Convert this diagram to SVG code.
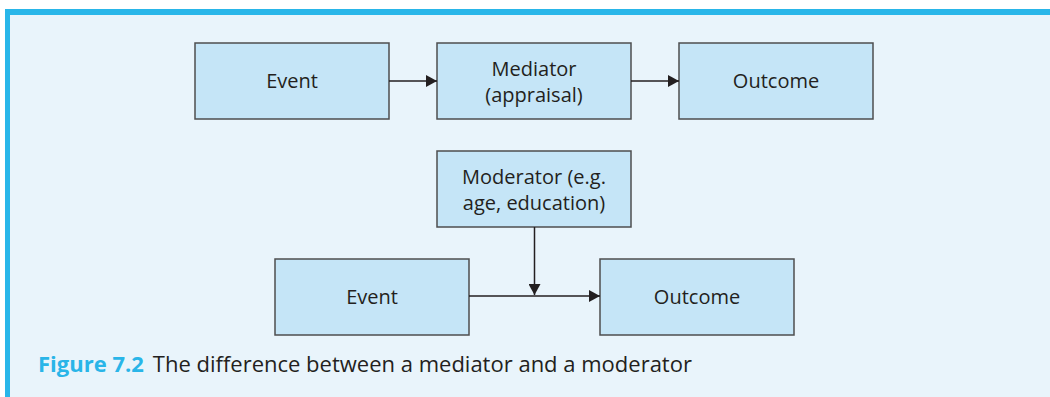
<svg xmlns="http://www.w3.org/2000/svg" width="1050" height="397" viewBox="0 0 1050 397">
  <defs>
    <style>
      .box { fill: #C5E5F7; stroke: #4D4D4F; stroke-width: 1.5; }
      .lbl { font-family: "Open Sans", "Noto Sans", sans-serif; font-size: 20px; fill: #231F20; text-anchor: middle; }
      .conn { stroke: #231F20; stroke-width: 1.5; fill: none; }
      .cap { font-family: "Open Sans", "Noto Sans", sans-serif; font-size: 22px; fill: #231F20; }
      .capnum { fill: #29B5E8; font-weight: bold; }
    </style>
    <marker id="arrow" viewBox="0 0 11 12" refX="11" refY="6" markerWidth="11" markerHeight="12" markerUnits="userSpaceOnUse" orient="auto">
      <path d="M0,0 L11,6 L0,12 Z" fill="#231F20"/>
    </marker>
  </defs>

  <!-- panel background and frame -->
  <rect x="0" y="0" width="1050" height="397" fill="#FFFFFF"/>
  <rect x="5" y="9" width="1045" height="388" fill="#E9F4FB"/>
  <rect x="5" y="9" width="1045" height="6" fill="#29B6E9"/>
  <rect x="5" y="9" width="5" height="388" fill="#29B6E9"/>

  <!-- mediator model -->
  <g id="event-top">
    <rect class="box" x="195" y="43" width="194" height="76"/>
    <text class="lbl" x="292" y="88">Event</text>
  </g>
  <g id="mediator">
    <rect class="box" x="437" y="43" width="194" height="76"/>
    <text class="lbl" x="534" y="76">Mediator</text>
    <text class="lbl" x="534" y="102">(appraisal)</text>
  </g>
  <g id="outcome-top">
    <rect class="box" x="679" y="43" width="194" height="76"/>
    <text class="lbl" x="776" y="88">Outcome</text>
  </g>

  <!-- moderator model -->
  <g id="moderator">
    <rect class="box" x="437" y="151" width="194" height="76"/>
    <text class="lbl" x="534" y="184">Moderator (e.g.</text>
    <text class="lbl" x="534" y="210">age, education)</text>
  </g>
  <g id="event-bottom">
    <rect class="box" x="275" y="259" width="194" height="76"/>
    <text class="lbl" x="372" y="304">Event</text>
  </g>
  <g id="outcome-bottom">
    <rect class="box" x="600" y="259" width="194" height="76"/>
    <text class="lbl" x="697" y="304">Outcome</text>
  </g>

  <g id="connectors">
    <line class="conn" x1="389" y1="81" x2="437" y2="81" marker-end="url(#arrow)"/>
    <line class="conn" x1="631" y1="81" x2="679" y2="81" marker-end="url(#arrow)"/>
    <line class="conn" x1="469" y1="296" x2="600" y2="296" marker-end="url(#arrow)"/>
    <line class="conn" x1="534.5" y1="227" x2="534.5" y2="295" marker-end="url(#arrow)"/>
  </g>

  <!-- caption -->
  <text class="cap" x="38" y="372"><tspan class="capnum">Figure 7.2</tspan><tspan dx="9">The difference between a mediator and a moderator</tspan></text>
</svg>
